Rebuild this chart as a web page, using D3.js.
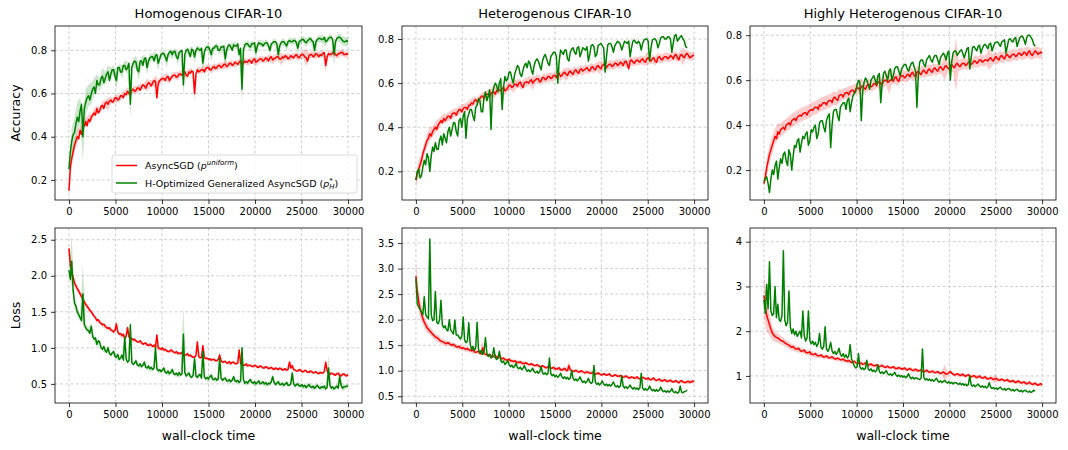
<!DOCTYPE html>
<html>
<head>
<meta charset="utf-8">
<script src="https://cdn.jsdelivr.net/npm/d3@7"></script>
<style>
  body { margin: 0; background: #fff; }
  svg { display: block; font-family: "DejaVu Sans", sans-serif; }
</style>
</head>
<body>
<svg id="chart" width="1068" height="450"></svg>
<script>
// evaluations were logged every 150 s of wall-clock time,
// the across-run spread every 300 s
const SAMPLE_STEP = 150;
const SPREAD_STEP = 300;
const X_DOMAIN = [-1500, 31500];
const X_TICKS = [0, 5000, 10000, 15000, 20000, 25000, 30000];
const TITLES = ["Homogenous CIFAR-10", "Heterogenous CIFAR-10", "Highly Heterogenous CIFAR-10"];
const ACC_TICKS = [0.2, 0.4, 0.6, 0.8];
const LOSS_TICKS_HOMO = [0.5, 1.0, 1.5, 2.0, 2.5];
const LOSS_TICKS_HET = [0.5, 1.0, 1.5, 2.0, 2.5, 3.0, 3.5];
const LOSS_TICKS_HIGH = [1, 2, 3, 4];

// ---- accuracy, homogenous ----
const homoAccUniform = [
  0.15, 0.26, 0.30, 0.33, 0.36, 0.38, 0.40, 0.39, 0.43, 0.41, 0.44, 0.45, 0.47, 0.45, 0.48, 0.47, 0.49, 0.50, 0.51, 0.50,
  0.53, 0.51, 0.52, 0.54, 0.545, 0.53, 0.555, 0.56, 0.55, 0.565, 0.57, 0.56, 0.565, 0.58, 0.58, 0.57, 0.575, 0.59, 0.59, 0.58,
  0.60, 0.595, 0.61, 0.60, 0.595, 0.615, 0.62, 0.61, 0.615, 0.625, 0.625, 0.615, 0.63, 0.64, 0.635, 0.625, 0.64, 0.65, 0.645, 0.635,
  0.65, 0.66, 0.655, 0.58, 0.645, 0.66, 0.665, 0.67, 0.67, 0.66, 0.675, 0.68, 0.66, 0.67, 0.68, 0.685, 0.685, 0.675, 0.68, 0.69,
  0.69, 0.685, 0.695, 0.70, 0.685, 0.68, 0.70, 0.695, 0.705, 0.70, 0.60, 0.69, 0.71, 0.70, 0.705, 0.71, 0.71, 0.70, 0.715, 0.72,
  0.72, 0.71, 0.71, 0.72, 0.725, 0.715, 0.72, 0.73, 0.73, 0.72, 0.725, 0.735, 0.735, 0.725, 0.73, 0.74, 0.74, 0.73, 0.735, 0.745,
  0.74, 0.735, 0.745, 0.75, 0.735, 0.74, 0.75, 0.745, 0.745, 0.755, 0.75, 0.74, 0.755, 0.76, 0.745, 0.75, 0.755, 0.76, 0.76, 0.75,
  0.755, 0.765, 0.76, 0.75, 0.765, 0.77, 0.755, 0.76, 0.765, 0.77, 0.77, 0.76, 0.76, 0.77, 0.765, 0.775, 0.77, 0.76, 0.765, 0.775,
  0.77, 0.765, 0.775, 0.78, 0.77, 0.765, 0.775, 0.78, 0.78, 0.77, 0.765, 0.75, 0.775, 0.78, 0.78, 0.77, 0.775, 0.785, 0.78, 0.77,
  0.78, 0.775, 0.785, 0.79, 0.73, 0.77, 0.785, 0.78, 0.78, 0.79, 0.79, 0.78, 0.775, 0.785, 0.785, 0.79, 0.79, 0.78, 0.78, 0.785,
  0.78
];
const homoAccUniformSpread = [
  .02, .04, .03, .03, .02, .02, .02, .02, .02, .02,
  .015, .015, .02, .015, .03, .015, .015, .02, .015, .015,
  .015, .02, .015, .015, .02, .015, .015, .015, .03, .015,
  .015, .03, .015, .015, .015, .02, .015, .015, .015, .02,
  .015, .015, .02, .015, .015, .03, .015, .015, .015, .015,
  .015, .02, .015, .015, .015, .015, .02, .015, .015, .015,
  .015, .015, .02, .015, .015, .015, .015, .02, .015, .015,
  .015, .015, .015, .02, .015, .015, .03, .015, .015, .015,
  .015, .015, .015, .015, .02, .04, .015, .015, .015, .015,
  .015, .015, .03, .015, .015, .015, .015, .015, .015, .015,
  .015
];
const homoAccOptimized = [
  0.25, 0.33, 0.38, 0.41, 0.42, 0.46, 0.49, 0.47, 0.52, 0.55, 0.40, 0.53, 0.56, 0.58, 0.59, 0.57, 0.60, 0.62, 0.63, 0.60,
  0.66, 0.64, 0.64, 0.67, 0.68, 0.65, 0.67, 0.69, 0.70, 0.66, 0.69, 0.71, 0.71, 0.68, 0.66, 0.72, 0.72, 0.70, 0.70, 0.73,
  0.73, 0.71, 0.72, 0.74, 0.55, 0.72, 0.74, 0.75, 0.745, 0.71, 0.70, 0.75, 0.75, 0.73, 0.76, 0.765, 0.72, 0.75, 0.765, 0.77,
  0.77, 0.75, 0.775, 0.78, 0.74, 0.76, 0.78, 0.785, 0.785, 0.77, 0.75, 0.78, 0.79, 0.795, 0.78, 0.795, 0.795, 0.77, 0.76, 0.79,
  0.795, 0.80, 0.64, 0.78, 0.80, 0.805, 0.79, 0.77, 0.805, 0.80, 0.77, 0.80, 0.81, 0.805, 0.80, 0.81, 0.74, 0.79, 0.81, 0.815,
  0.815, 0.80, 0.78, 0.81, 0.81, 0.82, 0.82, 0.80, 0.80, 0.815, 0.815, 0.82, 0.76, 0.80, 0.82, 0.825, 0.815, 0.80, 0.825, 0.82,
  0.82, 0.83, 0.78, 0.81, 0.62, 0.80, 0.825, 0.83, 0.83, 0.82, 0.815, 0.83, 0.83, 0.835, 0.79, 0.82, 0.835, 0.83, 0.83, 0.82,
  0.83, 0.835, 0.835, 0.82, 0.80, 0.83, 0.835, 0.84, 0.84, 0.83, 0.78, 0.82, 0.835, 0.84, 0.84, 0.83, 0.82, 0.84, 0.845, 0.84,
  0.84, 0.845, 0.845, 0.835, 0.81, 0.84, 0.845, 0.85, 0.85, 0.84, 0.835, 0.845, 0.85, 0.855, 0.845, 0.84, 0.80, 0.84, 0.85, 0.855,
  0.855, 0.85, 0.85, 0.86, 0.84, 0.845, 0.855, 0.86, 0.86, 0.85, 0.78, 0.84, 0.855, 0.86, 0.86, 0.855, 0.845, 0.84, 0.84, 0.845,
  0.84
];
const homoAccOptimizedSpread = [
  .02, .06, .07, .07, .06, .11, .06, .05, .05, .04,
  .03, .03, .04, .03, .03, .03, .02, .04, .02, .03,
  .02, .03, .06, .02, .03, .04, .02, .02, .03, .02,
  .015, .02, .03, .015, .015, .03, .015, .02, .015, .03,
  .015, .05, .015, .02, .015, .03, .015, .015, .04, .015,
  .015, .03, .015, .015, .02, .015, .04, .015, .015, .015,
  .015, .02, .06, .015, .015, .02, .015, .03, .015, .015,
  .015, .015, .02, .015, .015, .04, .015, .015, .02, .015,
  .015, .015, .03, .015, .015, .02, .015, .015, .04, .015,
  .015, .02, .02, .015, .015, .05, .015, .02, .02, .02,
  .02
];

// ---- accuracy, heterogenous ----
const hetAccUniform = [
  0.16, 0.19, 0.21, 0.23, 0.25, 0.28, 0.30, 0.32, 0.34, 0.35, 0.37, 0.36, 0.38, 0.39, 0.40, 0.39, 0.41, 0.42, 0.43, 0.42,
  0.44, 0.43, 0.44, 0.45, 0.45, 0.44, 0.46, 0.465, 0.465, 0.455, 0.47, 0.48, 0.48, 0.47, 0.485, 0.49, 0.49, 0.48, 0.50, 0.50,
  0.51, 0.505, 0.52, 0.525, 0.515, 0.52, 0.53, 0.54, 0.54, 0.53, 0.545, 0.55, 0.55, 0.54, 0.555, 0.56, 0.56, 0.55, 0.565, 0.57,
  0.57, 0.565, 0.575, 0.58, 0.565, 0.57, 0.58, 0.59, 0.59, 0.58, 0.585, 0.595, 0.595, 0.585, 0.60, 0.605, 0.59, 0.58, 0.60, 0.605,
  0.605, 0.60, 0.61, 0.615, 0.60, 0.61, 0.615, 0.62, 0.62, 0.605, 0.61, 0.625, 0.625, 0.615, 0.62, 0.63, 0.63, 0.62, 0.625, 0.635,
  0.635, 0.625, 0.64, 0.645, 0.63, 0.635, 0.645, 0.65, 0.64, 0.635, 0.65, 0.655, 0.645, 0.64, 0.655, 0.66, 0.65, 0.645, 0.66, 0.665,
  0.655, 0.66, 0.665, 0.67, 0.66, 0.655, 0.67, 0.675, 0.665, 0.66, 0.675, 0.68, 0.67, 0.665, 0.68, 0.685, 0.675, 0.67, 0.68, 0.685,
  0.685, 0.675, 0.68, 0.69, 0.69, 0.68, 0.685, 0.695, 0.69, 0.68, 0.695, 0.70, 0.685, 0.665, 0.70, 0.705, 0.695, 0.69, 0.70, 0.705,
  0.70, 0.695, 0.705, 0.71, 0.70, 0.695, 0.71, 0.715, 0.705, 0.70, 0.71, 0.715, 0.70, 0.695, 0.715, 0.72, 0.71, 0.705, 0.715, 0.72,
  0.72, 0.71, 0.715, 0.725, 0.72, 0.71, 0.725, 0.73, 0.715, 0.705, 0.725, 0.73, 0.72, 0.715, 0.73, 0.735, 0.725, 0.715, 0.72, 0.725,
  0.725
];
const hetAccUniformSpread = [
  .03, .04, .03, .03, .03, .03, .025, .025, .025, .02,
  .02, .02, .02, .02, .02, .02, .02, .02, .02, .02,
  .02, .02, .02, .02, .02, .02, .02, .02, .03, .02,
  .02, .02, .02, .02, .02, .03, .02, .02, .02, .02,
  .02, .02, .03, .02, .02, .02, .02, .02, .02, .02,
  .02, .02, .02, .02, .03, .02, .02, .02, .02, .02,
  .02, .02, .02, .02, .02, .02, .03, .02, .02, .02,
  .02, .02, .02, .02, .02, .02, .02, .02, .02, .02,
  .02, .02, .02, .03, .02, .02, .02, .02, .02, .02,
  .02, .02, .02, .02, .02, .02, .04, .02, .02, .02,
  .02
];
const hetAccOptimized = [
  0.16, 0.20, 0.21, 0.17, 0.18, 0.22, 0.25, 0.23, 0.28, 0.26, 0.20, 0.27, 0.31, 0.29, 0.33, 0.30, 0.30, 0.34, 0.36, 0.32,
  0.37, 0.35, 0.33, 0.38, 0.40, 0.36, 0.39, 0.42, 0.42, 0.38, 0.36, 0.43, 0.44, 0.40, 0.45, 0.47, 0.35, 0.44, 0.46, 0.48,
  0.48, 0.45, 0.43, 0.49, 0.50, 0.53, 0.52, 0.47, 0.47, 0.54, 0.56, 0.52, 0.54, 0.57, 0.39, 0.55, 0.58, 0.60, 0.59, 0.56,
  0.60, 0.62, 0.48, 0.58, 0.63, 0.61, 0.62, 0.65, 0.65, 0.62, 0.60, 0.64, 0.66, 0.68, 0.67, 0.64, 0.63, 0.66, 0.68, 0.69,
  0.67, 0.70, 0.69, 0.66, 0.64, 0.68, 0.70, 0.71, 0.70, 0.68, 0.66, 0.70, 0.72, 0.73, 0.71, 0.69, 0.68, 0.72, 0.73, 0.74,
  0.74, 0.72, 0.60, 0.70, 0.75, 0.74, 0.73, 0.75, 0.75, 0.71, 0.70, 0.74, 0.755, 0.76, 0.74, 0.73, 0.76, 0.765, 0.72, 0.74,
  0.76, 0.755, 0.75, 0.765, 0.70, 0.73, 0.77, 0.775, 0.765, 0.72, 0.73, 0.77, 0.775, 0.78, 0.77, 0.76, 0.65, 0.72, 0.775, 0.78,
  0.78, 0.765, 0.74, 0.77, 0.78, 0.79, 0.785, 0.775, 0.75, 0.77, 0.79, 0.785, 0.78, 0.79, 0.72, 0.76, 0.79, 0.795, 0.785, 0.78,
  0.79, 0.78, 0.75, 0.78, 0.795, 0.80, 0.80, 0.79, 0.70, 0.76, 0.795, 0.80, 0.80, 0.79, 0.76, 0.78, 0.805, 0.81, 0.81, 0.80,
  0.80, 0.81, 0.81, 0.80, 0.74, 0.78, 0.815, 0.82, 0.79, 0.80, 0.81, 0.815, 0.80, 0.79, 0.765, 0.76
];

// ---- accuracy, highly heterogenous ----
const highAccUniform = [
  0.14, 0.17, 0.21, 0.24, 0.27, 0.29, 0.31, 0.33, 0.35, 0.34, 0.37, 0.36, 0.38, 0.385, 0.39, 0.38, 0.40, 0.405, 0.41, 0.40,
  0.42, 0.425, 0.43, 0.42, 0.435, 0.44, 0.445, 0.44, 0.45, 0.455, 0.455, 0.445, 0.46, 0.465, 0.47, 0.465, 0.475, 0.48, 0.48, 0.47,
  0.49, 0.485, 0.495, 0.50, 0.50, 0.49, 0.505, 0.51, 0.51, 0.50, 0.52, 0.525, 0.515, 0.51, 0.53, 0.535, 0.535, 0.525, 0.54, 0.545,
  0.545, 0.535, 0.55, 0.555, 0.555, 0.545, 0.56, 0.565, 0.565, 0.555, 0.57, 0.575, 0.565, 0.56, 0.575, 0.58, 0.58, 0.57, 0.575, 0.585,
  0.585, 0.575, 0.59, 0.595, 0.585, 0.58, 0.595, 0.60, 0.60, 0.59, 0.595, 0.60, 0.605, 0.595, 0.61, 0.615, 0.60, 0.595, 0.615, 0.62,
  0.62, 0.61, 0.615, 0.625, 0.625, 0.615, 0.63, 0.635, 0.62, 0.615, 0.635, 0.64, 0.63, 0.625, 0.64, 0.645, 0.635, 0.63, 0.645, 0.65,
  0.64, 0.635, 0.65, 0.655, 0.645, 0.64, 0.655, 0.66, 0.65, 0.645, 0.66, 0.665, 0.655, 0.65, 0.665, 0.67, 0.66, 0.655, 0.67, 0.675,
  0.665, 0.66, 0.67, 0.675, 0.675, 0.665, 0.67, 0.68, 0.68, 0.67, 0.675, 0.685, 0.685, 0.675, 0.68, 0.69, 0.69, 0.68, 0.685, 0.69,
  0.69, 0.685, 0.695, 0.70, 0.69, 0.685, 0.70, 0.705, 0.695, 0.69, 0.705, 0.71, 0.70, 0.695, 0.71, 0.715, 0.705, 0.70, 0.71, 0.715,
  0.715, 0.705, 0.71, 0.72, 0.72, 0.71, 0.715, 0.725, 0.72, 0.71, 0.725, 0.73, 0.715, 0.71, 0.72, 0.73, 0.725, 0.715, 0.72, 0.725,
  0.72
];
const highAccUniformSpread = [
  .02, .04, .04, .04, .035, .035, .03, .03, .03, .03,
  .03, .03, .03, .03, .03, .03, .03, .03, .03, .03,
  .03, .03, .03, .03, .03, .03, .03, .03, .025, .025,
  .025, .025, .025, .025, .025, .04, .025, .025, .025, .025,
  .025, .025, .025, .025, .025, .06, .025, .025, .025, .025,
  .025, .025, .025, .025, .025, .025, .025, .025, .025, .025,
  .025, .025, .025, .025, .025, .06, .025, .025, .025, .12,
  .025, .025, .025, .025, .025, .025, .025, .025, .025, .025,
  .025, .05, .025, .025, .025, .025, .025, .025, .025, .025,
  .025, .025, .025, .025, .025, .025, .025, .025, .025, .025,
  .02
];
const highAccOptimized = [
  0.15, 0.16, 0.17, 0.14, 0.10, 0.16, 0.20, 0.18, 0.22, 0.24, 0.16, 0.21, 0.25, 0.23, 0.27, 0.28, 0.24, 0.22, 0.29, 0.27,
  0.20, 0.26, 0.31, 0.30, 0.33, 0.34, 0.28, 0.32, 0.35, 0.34, 0.36, 0.37, 0.31, 0.33, 0.38, 0.37, 0.39, 0.40, 0.34, 0.36,
  0.41, 0.42, 0.42, 0.39, 0.37, 0.42, 0.44, 0.45, 0.30, 0.40, 0.46, 0.47, 0.47, 0.44, 0.42, 0.48, 0.49, 0.50, 0.50, 0.47,
  0.51, 0.52, 0.46, 0.50, 0.53, 0.54, 0.55, 0.58, 0.60, 0.59, 0.42, 0.55, 0.59, 0.61, 0.60, 0.58, 0.56, 0.60, 0.61, 0.62,
  0.60, 0.58, 0.62, 0.63, 0.50, 0.58, 0.63, 0.64, 0.62, 0.60, 0.64, 0.65, 0.60, 0.62, 0.65, 0.66, 0.66, 0.64, 0.62, 0.65,
  0.66, 0.67, 0.67, 0.65, 0.64, 0.66, 0.675, 0.68, 0.66, 0.64, 0.48, 0.62, 0.68, 0.69, 0.69, 0.67, 0.66, 0.69, 0.70, 0.71,
  0.69, 0.68, 0.70, 0.71, 0.71, 0.69, 0.67, 0.70, 0.71, 0.72, 0.71, 0.69, 0.72, 0.73, 0.60, 0.68, 0.72, 0.73, 0.73, 0.71,
  0.72, 0.73, 0.735, 0.72, 0.70, 0.72, 0.74, 0.745, 0.65, 0.70, 0.745, 0.75, 0.74, 0.73, 0.75, 0.755, 0.72, 0.74, 0.755, 0.76,
  0.75, 0.74, 0.76, 0.765, 0.73, 0.75, 0.765, 0.77, 0.77, 0.76, 0.75, 0.77, 0.775, 0.78, 0.72, 0.75, 0.78, 0.785, 0.775, 0.77,
  0.785, 0.79, 0.75, 0.77, 0.79, 0.795, 0.795, 0.78, 0.76, 0.79, 0.80, 0.80, 0.79, 0.78, 0.76, 0.75
];

// ---- loss, homogenous ----
const homoLossUniform = [
  2.38, 2.15, 2.05, 1.98, 1.90, 1.86, 1.82, 1.79, 1.75, 1.71, 1.68, 1.64, 1.60, 1.58, 1.55, 1.52, 1.50, 1.47, 1.44, 1.42,
  1.38, 1.39, 1.36, 1.34, 1.32, 1.33, 1.30, 1.28, 1.27, 1.28, 1.25, 1.24, 1.22, 1.24, 1.33, 1.22, 1.19, 1.20, 1.17, 1.19,
  1.13, 1.16, 1.28, 1.15, 1.12, 1.13, 1.11, 1.12, 1.10, 1.08, 1.08, 1.10, 1.07, 1.05, 1.06, 1.07, 1.04, 1.03, 1.05, 1.04,
  1.02, 1.04, 1.01, 1.18, 1.00, 0.99, 0.98, 1.00, 0.97, 0.98, 0.96, 0.95, 0.95, 0.97, 0.96, 0.94, 0.93, 0.95, 0.92, 0.93,
  0.92, 0.94, 0.91, 0.90, 0.90, 0.92, 0.89, 0.90, 0.88, 0.87, 0.87, 0.89, 1.08, 0.88, 0.86, 0.87, 1.03, 0.86, 0.85, 0.86,
  0.84, 0.85, 0.83, 0.84, 0.84, 0.82, 0.82, 0.84, 0.90, 0.82, 0.80, 0.81, 0.81, 0.79, 0.79, 0.81, 0.78, 0.80, 0.80, 0.78,
  0.78, 0.79, 0.97, 0.78, 0.77, 0.76, 0.76, 0.78, 0.75, 0.76, 0.76, 0.74, 0.74, 0.76, 0.75, 0.73, 0.73, 0.75, 0.74, 0.72,
  0.72, 0.74, 0.73, 0.71, 0.72, 0.73, 0.71, 0.70, 0.72, 0.71, 0.70, 0.72, 0.71, 0.69, 0.70, 0.71, 0.69, 0.70, 0.80, 0.72,
  0.75, 0.70, 0.69, 0.68, 0.68, 0.70, 0.69, 0.67, 0.67, 0.69, 0.68, 0.66, 0.66, 0.68, 0.67, 0.65, 0.66, 0.67, 0.65, 0.64,
  0.66, 0.65, 0.65, 0.67, 0.80, 0.68, 0.64, 0.63, 0.65, 0.64, 0.63, 0.62, 0.64, 0.65, 0.62, 0.61, 0.63, 0.64, 0.62, 0.61,
  0.63
];
const homoLossUniformSpread = [
  .08, .06, .05, .05, .04, .04, .04, .04, .03, .03,
  .03, .03, .03, .03, .03, .03, .03, .05, .03, .03,
  .03, .04, .03, .03, .02, .02, .02, .02, .02, .02,
  .02, .02, .04, .02, .02, .02, .02, .02, .02, .02,
  .02, .02, .02, .02, .02, .02, .04, .02, .03, .02,
  .02, .02, .02, .02, .03, .02, .02, .02, .02, .02,
  .02, .04, .02, .02, .02, .02, .02, .02, .02, .02,
  .02, .02, .02, .02, .02, .02, .02, .02, .02, .04,
  .03, .02, .02, .02, .02, .02, .02, .02, .02, .02,
  .02, .02, .04, .02, .02, .02, .02, .02, .02, .02,
  .02
];
const homoLossOptimized = [
  2.08, 1.95, 2.20, 1.80, 1.62, 1.58, 1.50, 1.46, 1.42, 1.38, 1.75, 1.32, 1.28, 1.25, 1.24, 1.20, 1.30, 1.16, 1.12, 1.14,
  1.05, 1.10, 1.08, 1.00, 0.98, 1.02, 0.96, 0.94, 1.00, 0.92, 0.90, 0.93, 0.95, 0.88, 0.87, 0.91, 0.84, 0.86, 0.90, 0.83,
  1.15, 0.84, 0.80, 0.82, 1.32, 0.80, 0.77, 0.79, 0.82, 0.76, 0.75, 0.78, 0.74, 0.76, 0.80, 0.73, 0.72, 0.75, 0.71, 0.73,
  0.70, 0.72, 1.00, 0.71, 0.68, 0.70, 0.67, 0.69, 0.72, 0.66, 0.65, 0.68, 0.64, 0.66, 0.70, 0.64, 0.63, 0.65, 0.62, 0.66,
  0.62, 0.64, 1.19, 0.66, 0.61, 0.63, 0.65, 0.60, 0.59, 0.62, 0.85, 0.61, 0.59, 0.62, 0.63, 0.58, 0.95, 0.60, 0.57, 0.59,
  0.57, 0.60, 0.62, 0.56, 0.56, 0.58, 0.55, 0.57, 0.85, 0.58, 0.55, 0.57, 0.58, 0.54, 0.54, 0.56, 0.53, 0.55, 0.60, 0.54,
  0.53, 0.55, 0.52, 0.54, 1.00, 0.56, 0.51, 0.53, 0.51, 0.54, 0.56, 0.52, 0.51, 0.53, 0.50, 0.52, 0.54, 0.50, 0.51, 0.53,
  0.50, 0.52, 0.49, 0.51, 0.50, 0.53, 0.60, 0.52, 0.49, 0.51, 0.53, 0.49, 0.49, 0.51, 0.48, 0.50, 0.52, 0.48, 0.48, 0.50,
  0.65, 0.50, 0.47, 0.49, 0.50, 0.47, 0.47, 0.49, 0.46, 0.48, 0.45, 0.47, 0.49, 0.46, 0.45, 0.47, 0.44, 0.46, 0.48, 0.45,
  0.44, 0.46, 0.45, 0.47, 0.43, 0.45, 0.72, 0.48, 0.44, 0.46, 0.43, 0.45, 0.47, 0.44, 0.60, 0.48, 0.44, 0.46, 0.46, 0.47,
  0.47
];
const homoLossOptimizedSpread = [
  .04, .35, .08, .06, .05, .40, .05, .04, .05, .04,
  .04, .03, .03, .03, .04, .03, .03, .03, .03, .03,
  .05, .03, .06, .03, .03, .03, .03, .03, .03, .03,
  .03, .05, .03, .03, .03, .03, .03, .03, .03, .03,
  .03, .38, .03, .03, .03, .05, .03, .03, .05, .03,
  .03, .03, .03, .03, .10, .03, .03, .03, .03, .03,
  .03, .03, .06, .03, .03, .03, .03, .03, .03, .03,
  .03, .03, .03, .04, .03, .03, .03, .03, .03, .03,
  .04, .03, .03, .03, .03, .03, .03, .03, .03, .03,
  .03, .03, .03, .18, .03, .03, .03, .06, .05, .03,
  .03
];

// ---- loss, heterogenous ----
const hetLossUniform = [
  2.85, 2.55, 2.35, 2.22, 2.12, 2.02, 1.95, 1.90, 1.84, 1.81, 1.78, 1.75, 1.72, 1.69, 1.66, 1.65, 1.63, 1.60, 1.58, 1.57,
  1.56, 1.54, 1.53, 1.55, 1.53, 1.51, 1.50, 1.52, 1.49, 1.47, 1.46, 1.48, 1.45, 1.44, 1.45, 1.43, 1.42, 1.44, 1.41, 1.40,
  1.39, 1.41, 1.37, 1.36, 1.37, 1.38, 1.34, 1.33, 1.45, 1.34, 1.32, 1.31, 1.30, 1.32, 1.29, 1.28, 1.28, 1.30, 1.26, 1.27,
  1.30, 1.25, 1.23, 1.25, 1.22, 1.21, 1.21, 1.23, 1.19, 1.20, 1.18, 1.19, 1.18, 1.16, 1.16, 1.18, 1.15, 1.14, 1.14, 1.16,
  1.14, 1.12, 1.12, 1.14, 1.12, 1.10, 1.10, 1.12, 1.10, 1.08, 1.08, 1.10, 1.08, 1.06, 1.06, 1.08, 1.07, 1.05, 1.05, 1.07,
  1.04, 1.03, 1.04, 1.06, 1.02, 1.01, 1.03, 1.05, 1.01, 1.00, 1.10, 1.02, 1.00, 0.99, 0.99, 1.01, 0.99, 0.97, 0.98, 1.00,
  0.98, 0.96, 0.96, 0.98, 0.97, 0.95, 0.95, 0.97, 0.95, 0.93, 0.94, 0.96, 0.94, 0.92, 0.92, 0.94, 0.93, 0.91, 0.92, 0.94,
  0.91, 0.89, 0.90, 0.92, 0.91, 0.89, 0.89, 0.91, 0.89, 0.87, 0.88, 0.90, 0.88, 0.86, 0.86, 0.88, 0.87, 0.85, 0.86, 0.88,
  0.85, 0.84, 0.85, 0.87, 0.86, 0.84, 0.84, 0.86, 0.83, 0.82, 0.84, 0.86, 0.82, 0.81, 0.82, 0.84, 0.81, 0.80, 0.81, 0.83,
  0.80, 0.79, 0.80, 0.82, 0.79, 0.78, 0.79, 0.81, 0.78, 0.76, 0.79, 0.81, 0.78, 0.77, 0.77, 0.79, 0.79, 0.77, 0.78, 0.80,
  0.78
];
const hetLossUniformSpread = [
  .30, .20, .15, .12, .10, .08, .08, .07, .07, .06,
  .06, .05, .05, .05, .05, .05, .05, .05, .05, .05,
  .04, .04, .04, .04, .12, .04, .04, .04, .04, .04,
  .06, .04, .04, .04, .04, .04, .04, .04, .04, .04,
  .03, .03, .03, .03, .03, .03, .03, .03, .03, .03,
  .03, .03, .03, .03, .03, .08, .03, .03, .03, .03,
  .03, .03, .03, .03, .03, .03, .03, .03, .03, .03,
  .03, .03, .03, .03, .03, .03, .03, .03, .03, .03,
  .03, .03, .03, .03, .03, .03, .03, .03, .03, .03,
  .03, .03, .03, .03, .03, .03, .03, .03, .05, .03,
  .03
];
const hetLossOptimized = [
  2.80, 2.30, 2.25, 2.20, 2.15, 2.10, 2.45, 2.10, 2.05, 2.02, 3.58, 2.10, 1.98, 2.00, 2.55, 1.95, 1.92, 2.00, 2.38, 1.90,
  1.84, 1.88, 1.80, 1.78, 2.00, 1.80, 1.76, 1.72, 1.99, 1.70, 1.70, 1.66, 1.62, 1.68, 2.05, 1.60, 1.55, 1.58, 1.94, 1.52,
  1.42, 1.48, 1.40, 1.45, 1.95, 1.42, 1.35, 1.40, 1.32, 1.38, 1.65, 1.34, 1.28, 1.32, 1.25, 1.28, 1.45, 1.26, 1.22, 1.24,
  1.38, 1.20, 1.16, 1.19, 1.12, 1.15, 1.20, 1.12, 1.08, 1.11, 1.06, 1.09, 1.15, 1.06, 1.04, 1.07, 1.02, 1.05, 1.10, 1.03,
  0.99, 1.02, 0.98, 1.01, 1.05, 0.98, 0.96, 0.99, 0.95, 0.98, 1.08, 0.96, 0.93, 0.96, 0.92, 0.95, 1.25, 0.94, 0.90, 0.93,
  0.88, 0.91, 0.87, 0.90, 0.95, 0.88, 0.85, 0.88, 0.84, 0.87, 0.83, 0.86, 1.00, 0.85, 0.81, 0.84, 0.80, 0.83, 0.88, 0.81,
  0.77, 0.80, 0.76, 0.79, 0.85, 0.78, 0.75, 0.78, 1.10, 0.78, 0.73, 0.76, 0.72, 0.75, 0.80, 0.74, 0.71, 0.74, 0.70, 0.73,
  0.70, 0.73, 0.78, 0.71, 0.68, 0.71, 0.67, 0.70, 0.90, 0.70, 0.66, 0.69, 0.65, 0.68, 0.72, 0.67, 0.64, 0.67, 0.64, 0.66,
  0.63, 0.66, 0.95, 0.66, 0.62, 0.65, 0.62, 0.64, 0.70, 0.64, 0.61, 0.63, 0.60, 0.63, 0.60, 0.62, 0.68, 0.62, 0.59, 0.61,
  0.58, 0.61, 0.58, 0.60, 0.65, 0.59, 0.57, 0.59, 0.56, 0.58, 0.70, 0.58, 0.57, 0.59, 0.60, 0.62
];

// ---- loss, highly heterogenous ----
const highLossUniform = [
  2.80, 2.55, 2.35, 2.25, 2.15, 2.05, 1.96, 1.92, 1.88, 1.86, 1.85, 1.82, 1.80, 1.78, 1.77, 1.74, 1.72, 1.70, 1.69, 1.66,
  1.64, 1.66, 1.62, 1.60, 1.60, 1.62, 1.57, 1.55, 1.56, 1.58, 1.53, 1.52, 1.52, 1.54, 1.49, 1.48, 1.48, 1.50, 1.46, 1.45,
  1.45, 1.47, 1.44, 1.42, 1.43, 1.45, 1.42, 1.40, 1.41, 1.43, 1.40, 1.38, 1.38, 1.40, 1.38, 1.36, 1.36, 1.38, 1.35, 1.34,
  1.33, 1.35, 1.32, 1.30, 1.31, 1.33, 1.30, 1.28, 1.28, 1.30, 1.28, 1.26, 1.27, 1.29, 1.26, 1.25, 1.25, 1.27, 1.24, 1.23,
  1.23, 1.25, 1.22, 1.21, 1.22, 1.24, 1.21, 1.19, 1.20, 1.22, 1.19, 1.18, 1.19, 1.21, 1.18, 1.16, 1.17, 1.19, 1.17, 1.15,
  1.16, 1.18, 1.15, 1.13, 1.15, 1.17, 1.14, 1.12, 1.13, 1.15, 1.13, 1.11, 1.12, 1.14, 1.11, 1.09, 1.11, 1.13, 1.10, 1.08,
  1.09, 1.11, 1.09, 1.07, 1.08, 1.10, 1.07, 1.05, 1.07, 1.09, 1.06, 1.04, 1.05, 1.07, 1.10, 1.06, 1.04, 1.02, 1.03, 1.05,
  1.03, 1.01, 1.02, 1.04, 1.01, 0.99, 1.01, 1.03, 1.00, 0.98, 0.99, 1.01, 0.98, 0.96, 0.98, 1.00, 0.97, 0.95, 0.96, 0.98,
  0.95, 0.93, 0.94, 0.96, 0.94, 0.92, 0.93, 0.95, 0.92, 0.90, 0.91, 0.93, 0.91, 0.89, 0.90, 0.92, 0.89, 0.87, 0.88, 0.90,
  0.87, 0.85, 0.87, 0.89, 0.86, 0.84, 0.85, 0.87, 0.84, 0.82, 0.84, 0.86, 0.83, 0.81, 0.82, 0.84, 0.81, 0.79, 0.81, 0.83,
  0.80
];
const highLossUniformSpread = [
  .50, .35, .25, .15, .12, .10, .10, .09, .08, .08,
  .07, .07, .07, .06, .06, .06, .06, .06, .06, .06,
  .05, .05, .05, .05, .05, .05, .05, .05, .05, .05,
  .05, .05, .05, .05, .05, .05, .05, .05, .05, .05,
  .04, .04, .04, .04, .04, .04, .04, .04, .04, .04,
  .04, .04, .04, .04, .04, .04, .04, .04, .04, .04,
  .04, .04, .04, .04, .04, .20, .04, .04, .04, .04,
  .04, .04, .04, .04, .04, .04, .04, .04, .04, .04,
  .04, .04, .04, .10, .04, .04, .04, .04, .04, .04,
  .04, .04, .04, .04, .04, .04, .04, .04, .04, .04,
  .04
];
const highLossOptimized = [
  2.70, 2.40, 3.05, 2.50, 3.55, 2.45, 2.35, 2.40, 3.00, 2.30, 2.60, 2.25, 2.22, 2.35, 3.80, 2.25, 2.12, 2.20, 2.90, 2.10,
  1.95, 2.05, 1.92, 2.00, 1.88, 1.95, 2.00, 1.85, 2.45, 1.90, 1.78, 1.85, 2.45, 1.80, 1.72, 1.78, 1.70, 1.75, 1.66, 1.72,
  1.95, 1.65, 1.60, 1.66, 2.10, 1.60, 1.55, 1.62, 1.75, 1.56, 1.50, 1.55, 1.48, 1.53, 1.62, 1.48, 1.44, 1.50, 1.42, 1.47,
  1.40, 1.45, 1.70, 1.38, 1.30, 1.22, 1.18, 1.20, 1.50, 1.20, 1.15, 1.18, 1.14, 1.17, 1.35, 1.15, 1.12, 1.16, 1.10, 1.13,
  1.09, 1.12, 1.25, 1.10, 1.06, 1.09, 1.05, 1.08, 1.12, 1.05, 1.02, 1.05, 1.01, 1.04, 1.08, 1.02, 0.99, 1.02, 0.98, 1.01,
  0.97, 1.00, 0.96, 0.99, 1.05, 0.97, 0.94, 0.97, 0.93, 0.96, 0.95, 0.93, 0.92, 0.95, 1.60, 0.96, 0.91, 0.94, 0.90, 0.93,
  0.89, 0.92, 0.88, 0.91, 0.95, 0.89, 0.86, 0.89, 0.85, 0.88, 0.90, 0.86, 0.84, 0.87, 0.83, 0.86, 0.82, 0.85, 0.85, 0.83,
  0.81, 0.84, 0.80, 0.83, 0.79, 0.82, 0.78, 0.81, 1.00, 0.80, 0.77, 0.80, 0.76, 0.79, 0.82, 0.77, 0.75, 0.78, 0.74, 0.77,
  0.73, 0.76, 0.85, 0.75, 0.72, 0.74, 0.71, 0.73, 0.70, 0.73, 0.75, 0.71, 0.69, 0.72, 0.68, 0.71, 0.72, 0.70, 0.67, 0.70,
  0.66, 0.69, 0.70, 0.67, 0.65, 0.68, 0.64, 0.67, 0.68, 0.65, 0.64, 0.66, 0.63, 0.65, 0.68, 0.66
];

const UNIFORM_COLOR = "#ff0000";
const OPTIMIZED_COLOR = "#008000";

const COLUMNS = [
  { x0: 55, x1: 362 },
  { x0: 402, x1: 708 },
  { x0: 750, x1: 1056 },
];
const ROWS = [
  { y0: 26, y1: 200 },
  { y0: 228, y1: 403 },
];

const fmt1 = d3.format(".1f");
const fmt0 = d3.format("d");

const panels = [
  { col: 0, row: 0, title: TITLES[0], yDomain: [0.107, 0.9125], yTicks: ACC_TICKS, yFormat: fmt1,
    uniform: homoAccUniform, uniformSpread: homoAccUniformSpread,
    optimized: homoAccOptimized, optimizedSpread: homoAccOptimizedSpread, yLabel: "Accuracy", legend: true },
  { col: 1, row: 0, title: TITLES[1], yDomain: [0.07, 0.859], yTicks: ACC_TICKS, yFormat: fmt1,
    uniform: hetAccUniform, uniformSpread: hetAccUniformSpread,
    optimized: hetAccOptimized, optimizedSpread: null },
  { col: 2, row: 0, title: TITLES[2], yDomain: [0.067, 0.841], yTicks: ACC_TICKS, yFormat: fmt1,
    uniform: highAccUniform, uniformSpread: highAccUniformSpread,
    optimized: highAccOptimized, optimizedSpread: null },
  { col: 0, row: 1, yDomain: [0.235, 2.663], yTicks: LOSS_TICKS_HOMO, yFormat: fmt1,
    uniform: homoLossUniform, uniformSpread: homoLossUniformSpread,
    optimized: homoLossOptimized, optimizedSpread: homoLossOptimizedSpread, yLabel: "Loss", xLabel: true },
  { col: 1, row: 1, yDomain: [0.368, 3.795], yTicks: LOSS_TICKS_HET, yFormat: fmt1,
    uniform: hetLossUniform, uniformSpread: hetLossUniformSpread,
    optimized: hetLossOptimized, optimizedSpread: null, xLabel: true },
  { col: 2, row: 1, yDomain: [0.395, 4.307], yTicks: LOSS_TICKS_HIGH, yFormat: fmt0,
    uniform: highLossUniform, uniformSpread: highLossUniformSpread,
    optimized: highLossOptimized, optimizedSpread: null, xLabel: true },
];

const svg = d3.select("#chart");
svg.append("rect").attr("width", 1068).attr("height", 450).attr("fill", "#fff");
const defs = svg.append("defs");

function linePoints(values) {
  return values.map((v, i) => ({ t: i * SAMPLE_STEP, v }));
}

// band is logged on a coarser grid: centre it on the matching evaluation
function bandPoints(values, spread) {
  const ratio = SPREAD_STEP / SAMPLE_STEP;
  return spread
    .map((s, i) => ({ t: i * SPREAD_STEP, v: values[i * ratio], s }))
    .filter((d) => d.v !== undefined);
}

function drawPanel(p, idx) {
  const { x0, x1 } = COLUMNS[p.col];
  const { y0, y1 } = ROWS[p.row];
  const x = d3.scaleLinear().domain(X_DOMAIN).range([x0, x1]);
  const y = d3.scaleLinear().domain(p.yDomain).range([y1, y0]);
  const g = svg.append("g");

  defs.append("clipPath").attr("id", `clip${idx}`)
    .append("rect").attr("x", x0).attr("y", y0).attr("width", x1 - x0).attr("height", y1 - y0);

  // grid
  const grid = g.append("g").attr("stroke", "#c4c4c4").attr("stroke-width", 0.8)
    .attr("stroke-dasharray", "3,2.2");
  grid.selectAll("line.vx").data(X_TICKS).join("line")
    .attr("x1", (d) => x(d)).attr("x2", (d) => x(d)).attr("y1", y0).attr("y2", y1);
  grid.selectAll("line.hy").data(p.yTicks).join("line")
    .attr("y1", (d) => y(d)).attr("y2", (d) => y(d)).attr("x1", x0).attr("x2", x1);

  const plot = g.append("g").attr("clip-path", `url(#clip${idx})`);
  const line = d3.line().x((d) => x(d.t)).y((d) => y(d.v));
  const area = d3.area().x((d) => x(d.t)).y0((d) => y(d.v - d.s)).y1((d) => y(d.v + d.s));

  const series = [
    { values: p.uniform, spread: p.uniformSpread, color: UNIFORM_COLOR },
    { values: p.optimized, spread: p.optimizedSpread, color: OPTIMIZED_COLOR },
  ];
  series.forEach((s) => {
    if (s.spread) {
      plot.append("path").datum(bandPoints(s.values, s.spread)).attr("d", area)
        .attr("fill", s.color).attr("fill-opacity", 0.2).attr("stroke", "none");
    }
    plot.append("path").datum(linePoints(s.values)).attr("d", line)
      .attr("fill", "none").attr("stroke", s.color).attr("stroke-width", 1.5)
      .attr("stroke-linejoin", "round");
  });

  // axes
  const xAxis = d3.axisBottom(x).tickValues(X_TICKS).tickFormat(fmt0).tickSize(4).tickPadding(3.5);
  const yAxis = d3.axisLeft(y).tickValues(p.yTicks).tickFormat(p.yFormat).tickSize(4).tickPadding(4);
  const ax = g.append("g").attr("transform", `translate(0,${y1})`).call(xAxis);
  const ay = g.append("g").attr("transform", `translate(${x0},0)`).call(yAxis);
  [ax, ay].forEach((a) => {
    a.select(".domain").remove();
    a.selectAll(".tick line").attr("stroke", "#000").attr("stroke-width", 0.8);
    a.selectAll(".tick text").attr("fill", "#000").style("font-size", "10px")
      .style("font-family", '"DejaVu Sans", sans-serif');
  });

  g.append("rect").attr("x", x0).attr("y", y0).attr("width", x1 - x0).attr("height", y1 - y0)
    .attr("fill", "none").attr("stroke", "#000").attr("stroke-width", 0.8);

  if (p.title) {
    g.append("text").attr("x", (x0 + x1) / 2).attr("y", 18).attr("text-anchor", "middle")
      .style("font-size", "13px").text(p.title);
  }
  if (p.yLabel) {
    g.append("text").attr("transform", `translate(20,${(y0 + y1) / 2}) rotate(-90)`)
      .attr("text-anchor", "middle").style("font-size", "12.5px").text(p.yLabel);
  }
  if (p.xLabel) {
    g.append("text").attr("x", (x0 + x1) / 2).attr("y", 440).attr("text-anchor", "middle")
      .style("font-size", "12.5px").text("wall-clock time");
  }
  if (p.legend) drawLegend(g);
}

function drawLegend(g) {
  const lg = g.append("g");
  lg.append("rect").attr("x", 112).attr("y", 155).attr("width", 245).attr("height", 38)
    .attr("rx", 2.5).attr("fill", "#fff").attr("fill-opacity", 0.8)
    .attr("stroke", "#d0d0d0").attr("stroke-width", 0.8);
  const rows = [
    { y: 165.5, color: UNIFORM_COLOR, kind: "uniform" },
    { y: 183, color: OPTIMIZED_COLOR, kind: "optimized" },
  ];
  rows.forEach((r) => {
    lg.append("line").attr("x1", 116).attr("x2", 137).attr("y1", r.y).attr("y2", r.y)
      .attr("stroke", r.color).attr("stroke-width", 1.5);
    const t = lg.append("text").attr("x", 145).attr("y", r.y + 3.5).style("font-size", "9.5px");
    if (r.kind === "uniform") {
      t.append("tspan").text("AsyncSGD (");
      t.append("tspan").style("font-style", "italic").text("p");
      t.append("tspan").attr("dy", -4).style("font-style", "italic").style("font-size", "7px").text("uniform");
      t.append("tspan").attr("dy", 4).text(")");
    } else {
      t.append("tspan").text("H-Optimized Generalized AsyncSGD (");
      t.append("tspan").style("font-style", "italic").text("p");
      t.append("tspan").attr("dy", -4).style("font-size", "7px").text("*");
      t.append("tspan").attr("dx", -3.5).attr("dy", 6.5).style("font-style", "italic").style("font-size", "7px").text("H");
      t.append("tspan").attr("dy", -2.5).text(")");
    }
  });
}

panels.forEach(drawPanel);
</script>
</body>
</html>
